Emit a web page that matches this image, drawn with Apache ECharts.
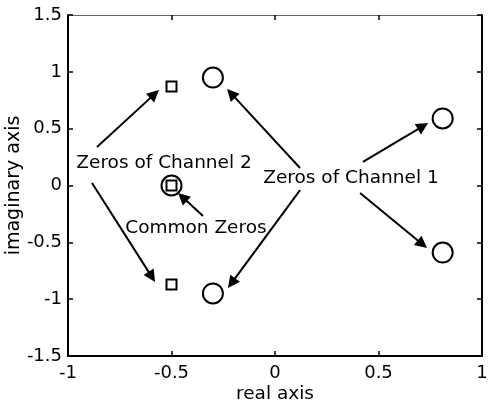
<!DOCTYPE html>
<html>
<head>
<meta charset="utf-8">
<script src="https://cdn.jsdelivr.net/npm/echarts@6/dist/echarts.min.js"></script>
<style>
  html, body { margin: 0; padding: 0; background: #fff; }
  #chart { width: 488px; height: 408px; }
</style>
</head>
<body>
<div id="chart"></div>
<script>
// Zeros of channel 1 (circles), channel 2 (squares) and the shared zero
const channel1Zeros = [[-0.3, 0.95], [-0.3, -0.95], [0.81, 0.59], [0.81, -0.59]];
const channel2Zeros = [[-0.5, 0.87], [-0.5, -0.87]];
const commonZeros = [[-0.5, 0]];

// Axis ranges and tick spacing
const xRange = [-1, 1];
const yRange = [-1.5, 1.5];
const tickStep = 0.5;

// Text annotations placed in data coordinates
const annotations = [
  { text: 'Zeros of Channel 2', at: [-0.536, 0.198] },
  { text: 'Zeros of Channel 1', at: [0.367, 0.066] },
  { text: 'Common Zeros', at: [-0.382, -0.374] }
];

// Annotation arrows: [from, to] in data coordinates
const arrows = [
  [[-0.860, 0.339], [-0.582, 0.804]],
  [[-0.884, 0.022], [-0.595, -0.804]],
  [[0.121, 0.154], [-0.212, 0.810]],
  [[0.121, -0.040], [-0.210, -0.859]],
  [[0.425, 0.207], [0.715, 0.522]],
  [[0.411, -0.066], [0.712, -0.516]],
  [[-0.348, -0.268], [-0.447, -0.102]]
];

const FONT = 'DejaVu Sans';
const ink = '#000';

const chart = echarts.init(document.getElementById('chart'), null, { renderer: 'canvas' });

const baseAxis = {
  type: 'value',
  interval: tickStep,
  splitLine: { show: false },
  axisLine: { show: true, onZero: false, lineStyle: { color: ink, width: 2 } },
  axisTick: { show: true, inside: true, length: 5, lineStyle: { color: ink, width: 1.5 } },
  axisLabel: { color: ink, fontFamily: FONT, fontSize: 18 }
};

const option = {
  backgroundColor: '#fff',
  animation: false,
  grid: { left: 68, right: 6, top: 15, bottom: 52, containLabel: false, outerBoundsMode: 'none' },
  xAxis: [
    Object.assign({}, baseAxis, {
      min: xRange[0], max: xRange[1], position: 'bottom',
      name: 'real axis', nameLocation: 'middle', nameGap: 29, nameMoveOverlap: false,
      nameTextStyle: { color: ink, fontFamily: FONT, fontSize: 18.5 },
      axisLabel: Object.assign({}, baseAxis.axisLabel, { margin: 8 })
    }),
    Object.assign({}, baseAxis, {
      min: xRange[0], max: xRange[1], position: 'top',
      axisLine: { show: true, onZero: false, lineStyle: { color: '#666', width: 1 } },
      axisLabel: { show: false }
    })
  ],
  yAxis: [
    Object.assign({}, baseAxis, {
      min: yRange[0], max: yRange[1], position: 'left',
      name: 'imaginary axis', nameLocation: 'middle', nameGap: 44, nameMoveOverlap: false,
      nameTextStyle: { color: ink, fontFamily: FONT, fontSize: 19 },
      axisLabel: Object.assign({}, baseAxis.axisLabel, { margin: 6 })
    }),
    Object.assign({}, baseAxis, {
      min: yRange[0], max: yRange[1], position: 'right',
      axisLabel: { show: false }
    })
  ],
  series: [
    {
      type: 'scatter',
      data: channel1Zeros.concat(commonZeros),
      symbol: 'circle',
      symbolSize: 20,
      itemStyle: { color: 'rgba(0,0,0,0)', borderColor: ink, borderWidth: 2, opacity: 1 },
      z: 3
    },
    {
      type: 'scatter',
      data: channel2Zeros.concat(commonZeros),
      symbol: 'rect',
      symbolSize: 10,
      itemStyle: { color: 'rgba(0,0,0,0)', borderColor: ink, borderWidth: 2, opacity: 1 },
      z: 3
    },
    {
      type: 'lines',
      coordinateSystem: 'cartesian2d',
      data: arrows.map(a => ({ coords: a })),
      symbol: ['none', 'triangle'],
      symbolSize: 12,
      lineStyle: { color: ink, width: 2, opacity: 1, curveness: 0 },
      z: 4
    },
    {
      type: 'scatter',
      data: annotations.map(a => ({ value: a.at, name: a.text })),
      symbol: 'circle',
      symbolSize: 1,
      itemStyle: { color: 'rgba(0,0,0,0)', opacity: 1 },
      label: {
        show: true,
        position: 'inside',
        formatter: p => p.name,
        color: ink,
        fontFamily: FONT,
        fontSize: 18.5
      },
      z: 5
    }
  ]
};

chart.setOption(option);
</script>
</body>
</html>
